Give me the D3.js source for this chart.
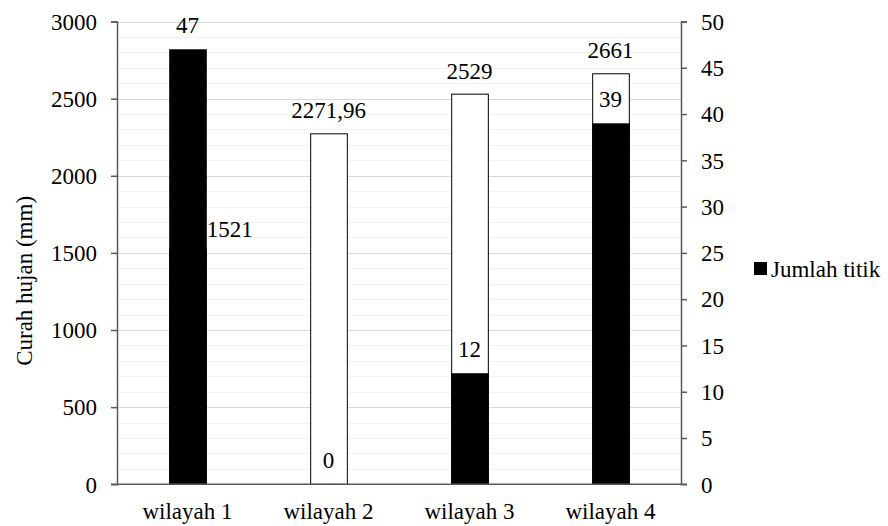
<!DOCTYPE html>
<html>
<head>
<meta charset="utf-8">
<script src="https://cdn.jsdelivr.net/npm/d3@7"></script>
</head>
<body style="margin:0">
<svg id="chart" width="888" height="526"></svg>
<script>
// Rainfall (left axis) and hotspot counts (right axis) per region
const categories = ["wilayah 1", "wilayah 2", "wilayah 3", "wilayah 4"];
const curahHujan = [1521, 2271.96, 2529, 2661];
const curahHujanLabels = ["1521", "2271,96", "2529", "2661"];
const jumlahTitik = [47, 0, 12, 39];
const leftTicks = [0, 500, 1000, 1500, 2000, 2500, 3000];
const rightTicks = [0, 5, 10, 15, 20, 25, 30, 35, 40, 45, 50];
const legendLabel = "Jumlah titik";
const yTitle = "Curah hujan (mm)";

const svg = d3.select("#chart");
const plotLeft = 117, plotRight = 681, plotTop = 21.5, plotBottom = 484.3;
const fontSize = 23;

// Every label is created through this helper so it carries the serif face inline
function label(parent) {
  return parent.append("text")
    .style("font-family", '"Liberation Serif"')
    .style("font-size", fontSize + "px");
}

const x = d3.scaleBand().domain(categories).range([plotLeft, plotRight]).paddingInner(0.74).paddingOuter(0.37);
const yL = d3.scaleLinear().domain([0, 3000]).range([plotBottom, plotTop]);
const yR = d3.scaleLinear().domain([0, 50]).range([plotBottom, plotTop]);

// Gridlines: minor every 100, major every 500
const minor = d3.range(100, 3001, 100).filter(v => v % 500 !== 0);
svg.append("g").selectAll("line").data(minor).join("line")
  .attr("x1", plotLeft).attr("x2", plotRight)
  .attr("y1", d => Math.round(yL(d)) + 0.5).attr("y2", d => Math.round(yL(d)) + 0.5)
  .attr("stroke", "#f2f2f2").attr("stroke-width", 1);
svg.append("g").selectAll("line").data(leftTicks.filter(v => v > 0)).join("line")
  .attr("x1", plotLeft).attr("x2", plotRight)
  .attr("y1", d => Math.round(yL(d)) + 0.5).attr("y2", d => Math.round(yL(d)) + 0.5)
  .attr("stroke", "#d9d9d9").attr("stroke-width", 1);

// Rainfall bars (white, outlined)
const bw = x.bandwidth();
svg.append("g").selectAll("rect").data(categories).join("rect")
  .attr("x", d => x(d) + 0.5)
  .attr("y", (d, i) => yL(curahHujan[i]))
  .attr("width", bw)
  .attr("height", (d, i) => plotBottom - yL(curahHujan[i]))
  .attr("fill", "#fff").attr("stroke", "#000").attr("stroke-width", 1);

// Hotspot bars (black) drawn in front
svg.append("g").selectAll("rect").data(categories).join("rect")
  .attr("x", d => x(d))
  .attr("y", (d, i) => yR(jumlahTitik[i]))
  .attr("width", bw + 1)
  .attr("height", (d, i) => plotBottom - yR(jumlahTitik[i]))
  .attr("fill", "#000");

// Axes: lines and ticks from d3-axis, tick labels drawn as serif text
const axisColor = "#595959";
const gL = svg.append("g").attr("transform", `translate(${plotLeft},0)`)
  .call(d3.axisLeft(yL).tickValues(leftTicks).tickSize(6).tickFormat(""));
const gR = svg.append("g").attr("transform", `translate(${plotRight},0)`)
  .call(d3.axisRight(yR).tickValues(rightTicks).tickSize(6).tickFormat(""));
[gL, gR].forEach(g => {
  g.select(".domain").attr("stroke", axisColor).attr("stroke-width", 1.5);
  g.selectAll(".tick line").attr("stroke", axisColor).attr("stroke-width", 1.5);
  g.selectAll(".tick text").remove();
});
gL.selectAll(".tick line").filter(d => d === 0).remove();
gR.selectAll(".tick line").filter(d => d === 0).remove();

leftTicks.forEach(v => {
  label(svg).attr("x", plotLeft - 20).attr("y", yL(v)).attr("dy", "0.36em")
    .attr("text-anchor", "end").attr("fill", "#000").text(v);
});
rightTicks.forEach(v => {
  label(svg).attr("x", plotRight + 20).attr("y", yR(v)).attr("dy", "0.36em")
    .attr("text-anchor", "start").attr("fill", "#000").text(v);
});

// Baseline
svg.append("line").attr("x1", plotLeft - 6).attr("x2", plotRight + 6)
  .attr("y1", plotBottom).attr("y2", plotBottom)
  .attr("stroke", axisColor).attr("stroke-width", 1.5);

categories.forEach((c, i) => {
  const cx = x(c) + bw / 2;
  // Category label
  label(svg).attr("x", cx).attr("y", plotBottom + 35).attr("text-anchor", "middle").text(c);
  // Rainfall value label
  label(svg)
    .attr("x", i === 0 ? x(c) + bw + 1 : cx)
    .attr("y", yL(curahHujan[i]) - (i === 0 ? 12.5 : 15.5))
    .attr("text-anchor", i === 0 ? "start" : "middle")
    .text(curahHujanLabels[i]);
  // Hotspot value label
  label(svg).attr("x", cx).attr("y", yR(jumlahTitik[i]) - 16)
    .attr("text-anchor", "middle").text(jumlahTitik[i]);
});

// Y axis title
label(svg)
  .attr("transform", `translate(32,${(plotTop + plotBottom) / 2 + 28}) rotate(-90)`)
  .attr("text-anchor", "middle").text(yTitle);

// Legend
const lg = svg.append("g").attr("transform", "translate(754,262)");
lg.append("rect").attr("width", 13).attr("height", 13).attr("fill", "#000");
label(lg).attr("x", 17).attr("y", 14.5).text(legendLabel);
</script>
</body>
</html>
